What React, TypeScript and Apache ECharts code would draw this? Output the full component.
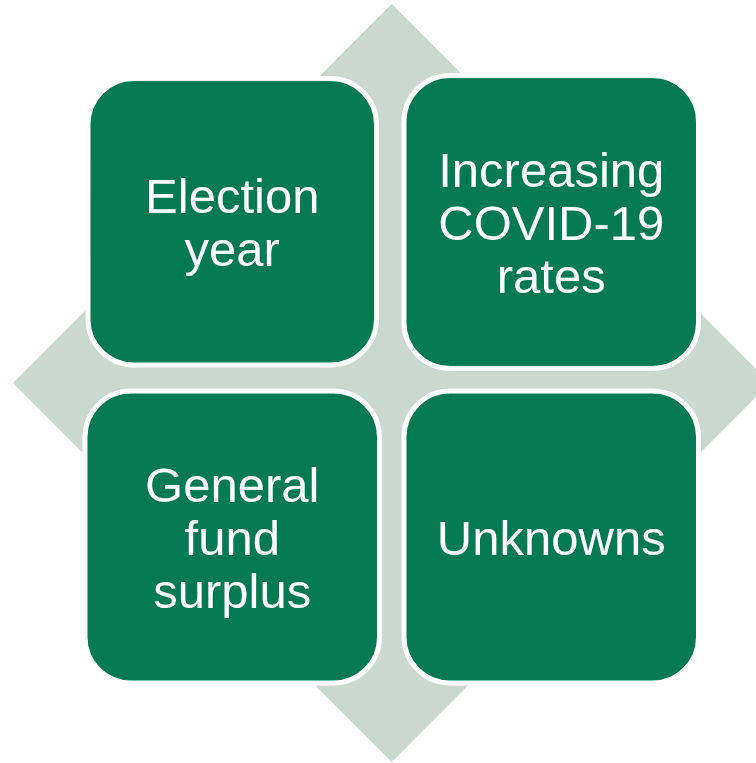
import React, { useEffect, useRef } from "react";
import * as echarts from "echarts";

const labels: string[][] = [
  ["Election", "year"],
  ["Increasing", "COVID-19", "rates"],
  ["General", "fund", "surplus"],
  ["Unknowns"],
];

// box geometry: [x, y, w, h] (stroke centred)
const boxes: number[][] = [
  [88, 78.5, 288.5, 286.5],
  [404, 75.5, 294.5, 293],
  [85, 391, 294.5, 292],
  [404, 391, 294.5, 292],
];

const diamond: number[][] = [
  [391.7, 4],
  [770, 383],
  [391.7, 762],
  [13, 383],
];

const GREEN = "#037a51";
const GRAY = "#cad8d0";

export default function App() {
  const ref = useRef<HTMLDivElement>(null);
  useEffect(() => {
    if (!ref.current) return;
    const chart = echarts.init(ref.current, null, { renderer: "svg" });
    const elements: any[] = [
      {
        type: "polygon",
        shape: { points: diamond },
        style: { fill: GRAY },
        z: 1,
      },
    ];
    boxes.forEach((b, i) => {
      elements.push({
        type: "rect",
        shape: { x: b[0], y: b[1], width: b[2], height: b[3], r: 46 },
        style: { fill: GREEN, stroke: "#ffffff", lineWidth: 5 },
        z: 2,
      });
      elements.push({
        type: "text",
        x: b[0] + b[2] / 2,
        y: b[1] + b[3] / 2 + 1,
        style: {
          text: labels[i].join("\n"),
          fill: "#ffffff",
          font: '49px "Liberation Sans", Arial, sans-serif',
          align: "center",
          verticalAlign: "middle",
          lineHeight: 53,
        },
        z: 3,
      });
    });
    chart.setOption({
      animation: false,
      backgroundColor: "#ffffff",
      graphic: { elements },
    });
    return () => chart.dispose();
  }, []);
  return (
    <div
      ref={ref}
      style={{ position: "absolute", left: 0, top: 0, width: 756, height: 763 }}
    />
  );
}
